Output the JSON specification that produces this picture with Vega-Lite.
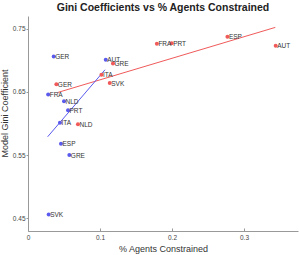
{
  "$schema": "https://vega.github.io/schema/vega-lite/v6.json",
  "width": 270,
  "height": 215,
  "autosize": {"type": "none"},
  "padding": {"left": 28, "top": 16, "right": 1, "bottom": 24},
  "background": "white",
  "title": {
    "text": "Gini Coefficients vs % Agents Constrained",
    "fontSize": 10.5,
    "fontWeight": "bold",
    "font": "Liberation Sans",
    "color": "#222222",
    "anchor": "middle",
    "offset": 3
  },
  "config": {
    "view": {"stroke": null},
    "axis": {
      "grid": false,
      "domainColor": "#999999",
      "tickColor": "#999999",
      "labelColor": "#444444",
      "labelFont": "Liberation Sans",
      "labelFontSize": 6.5,
      "labelOverlap": false,
      "labelBound": false,
      "labelFlush": false,
      "titleFont": "Liberation Sans",
      "titleFontWeight": "normal",
      "titleColor": "#333333",
      "titleFontSize": 9
    }
  },
  "datasets": {
    "pts": [
      {"group": "blue", "country": "GER", "x": 0.0357, "y": 0.706},
      {"group": "blue", "country": "AUT", "x": 0.108, "y": 0.701},
      {"group": "blue", "country": "FRA", "x": 0.028, "y": 0.646},
      {"group": "blue", "country": "NLD", "x": 0.050, "y": 0.635},
      {"group": "blue", "country": "PRT", "x": 0.0556, "y": 0.621},
      {"group": "blue", "country": "ITA", "x": 0.0444, "y": 0.601},
      {"group": "blue", "country": "ESP", "x": 0.0458, "y": 0.568},
      {"group": "blue", "country": "GRE", "x": 0.0574, "y": 0.550},
      {"group": "blue", "country": "SVK", "x": 0.0287, "y": 0.456},
      {"group": "red", "country": "GER", "x": 0.0394, "y": 0.662},
      {"group": "red", "country": "GRE", "x": 0.118, "y": 0.695},
      {"group": "red", "country": "ITA", "x": 0.102, "y": 0.677},
      {"group": "red", "country": "SVK", "x": 0.1135, "y": 0.664},
      {"group": "red", "country": "NLD", "x": 0.0694, "y": 0.599},
      {"group": "red", "country": "FRA", "x": 0.179, "y": 0.726},
      {"group": "red", "country": "PRT", "x": 0.1995, "y": 0.727},
      {"group": "red", "country": "ESP", "x": 0.277, "y": 0.737},
      {"group": "red", "country": "AUT", "x": 0.344, "y": 0.723}
    ],
    "fits": [
      {"group": "red", "x": 0.0412, "y": 0.649},
      {"group": "red", "x": 0.3435, "y": 0.752},
      {"group": "blue", "x": 0.0273, "y": 0.579},
      {"group": "blue", "x": 0.107, "y": 0.685}
    ]
  },
  "layer": [
    {
      "data": {"name": "fits"},
      "mark": {"type": "line", "strokeWidth": 1},
      "encoding": {
        "x": {"field": "x", "type": "quantitative"},
        "y": {"field": "y", "type": "quantitative"},
        "detail": {"field": "group"},
        "color": {"field": "group", "type": "nominal", "scale": {"domain": ["blue", "red"], "range": ["#5a5aee", "#f05a5a"]}, "legend": null}
      }
    },
    {
      "data": {"name": "pts"},
      "mark": {"type": "circle", "size": 16, "opacity": 1},
      "encoding": {
        "x": {
          "field": "x", "type": "quantitative",
          "scale": {"domain": [0, 0.375], "nice": false, "zero": false},
          "axis": {"title": "% Agents Constrained", "values": [0, 0.05, 0.1, 0.15, 0.2, 0.25, 0.3, 0.35], "format": ".2~f", "labelOverlap": false, "tickSize": -3, "labelPadding": 6, "titleY": 13}
        },
        "y": {
          "field": "y", "type": "quantitative",
          "scale": {"domain": [0.43, 0.77], "nice": false, "zero": false},
          "axis": {"title": "Model Gini Coefficient", "values": [0.45, 0.5, 0.55, 0.6, 0.65, 0.7, 0.75], "format": ".2~f", "labelOverlap": false, "tickSize": 2, "labelPadding": 1, "titleX": -19, "titleY": 97}
        },
        "color": {"field": "group", "type": "nominal", "scale": {"domain": ["blue", "red"], "range": ["#0a0acc", "#cc0a0a"]}, "legend": null}
      }
    },
    {
      "data": {"name": "pts"},
      "mark": {"type": "text", "align": "left", "baseline": "middle", "dx": 1.5, "dy": 0.5, "fontSize": 6.5, "font": "Liberation Sans", "color": "#333333"},
      "encoding": {
        "x": {"field": "x", "type": "quantitative"},
        "y": {"field": "y", "type": "quantitative"},
        "text": {"field": "country"}
      }
    }
  ]
}
